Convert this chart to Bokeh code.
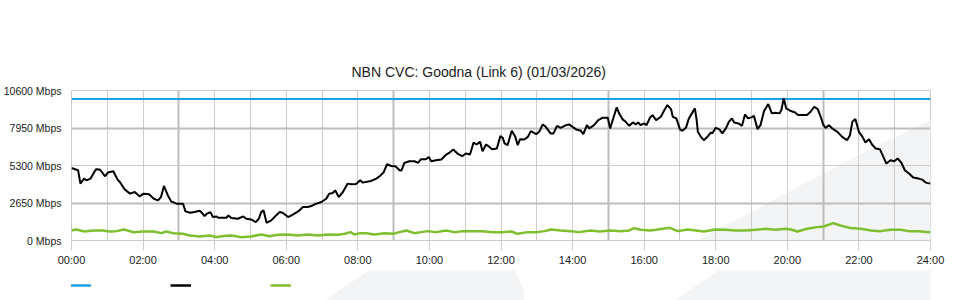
from bokeh.plotting import figure
from bokeh.layouts import column
from bokeh.models import (Range1d, FixedTicker, Legend, LegendItem, Grid,
                          PolyAnnotation)
from bokeh.embed import file_html
from bokeh.resources import INLINE

# ---------------- data ----------------
title_text = "NBN CVC: Goodna (Link 6) (01/03/2026)"
y_ticks = [0, 2650, 5300, 7950, 10600]
x_ticks = list(range(0, 25, 2))
x_tick_labels = ["%02d:00" % h for h in x_ticks]

capacity_hours = [0, 24]
capacity_mbps = [10000, 10000]

traffic_minutes = [
    0, 11, 15, 21, 25, 32, 41, 47, 50, 56, 61, 70, 77, 81, 89, 98, 106, 114, 121, 130,
    138, 145, 150, 155, 161, 167, 176, 181, 187, 191, 199, 206, 215, 219, 223, 227, 233, 237, 243, 246,
    260, 263, 268, 279, 288, 293, 301, 309, 314, 318, 322, 327, 335, 343, 349, 354, 363, 371, 380, 388,
    396, 402, 410, 419, 427, 432, 438, 442, 448, 455, 463, 469, 477, 484, 488, 502, 511, 517, 523, 529,
    536, 543, 550, 553, 558, 566, 575, 581, 586, 594, 599, 603, 611, 620, 627, 633, 640, 647, 655, 661,
    668, 674, 679, 685, 689, 695, 699, 705, 713, 719, 723, 726, 731, 738, 744, 748, 752, 759, 765, 770,
    779, 784, 790, 795, 803, 808, 814, 820, 829, 834, 840, 846, 854, 858, 864, 868, 876, 883, 890, 899,
    903, 909, 914, 918, 924, 929, 935, 941, 946, 950, 954, 960, 964, 970, 974, 980, 988, 993, 999, 1005,
    1008, 1014, 1020, 1024, 1030, 1035, 1041, 1045, 1048, 1050, 1055, 1060, 1066, 1072, 1074, 1080, 1086, 1091, 1097, 1102,
    1107, 1111, 1118, 1124, 1129, 1134, 1140, 1144, 1150, 1155, 1161, 1168, 1174, 1180, 1187, 1190, 1194, 1198, 1206, 1213,
    1218, 1225, 1233, 1239, 1245, 1251, 1256, 1260, 1264, 1270, 1275, 1284, 1292, 1300, 1305, 1309, 1314, 1320, 1326, 1331,
    1337, 1342, 1348, 1355, 1361, 1366, 1373, 1379, 1385, 1391, 1397, 1404, 1411, 1420, 1426, 1432, 1440,
]
traffic_mbps = [
    5126, 4963, 4020, 4375, 4254, 4375, 5034, 5010, 4892, 4538, 4800, 4892, 4325, 4136, 3616, 3311, 3427, 3120, 3311, 3261,
    2954, 2836, 3070, 3852, 3237, 2765, 2600, 2600, 2600, 2056, 1963, 2010, 2104, 1939, 1727, 1893, 2010, 1656, 1700, 1609,
    1609, 1772, 1585, 1538, 1700, 1538, 1489, 1297, 1538, 2010, 2127, 1255, 1418, 1772, 2010, 1963, 1656, 1822, 2056, 2363,
    2363, 2434, 2600, 2718, 2954, 3311, 3355, 3545, 3070, 3427, 4020, 3970, 4000, 4254, 4091, 4204, 4375, 4559, 4800, 5388,
    5268, 5247, 4963, 4940, 5480, 5601, 5601, 5480, 5743, 5743, 5906, 5601, 5672, 5720, 6027, 6190, 6431, 6147, 5956, 6147,
    6076, 6927, 6785, 6970, 6310, 6785, 6665, 6452, 6502, 7374, 7253, 6856, 6736, 7750, 7324, 6736, 7161, 7140, 7324, 7728,
    7515, 7679, 8203, 8033, 7565, 7565, 8104, 7962, 8154, 8203, 8033, 7849, 7750, 7515, 8154, 7919, 8154, 8508, 8671, 8671,
    7919, 8742, 9409, 8983, 8558, 8388, 8104, 8345, 8203, 8345, 8154, 8274, 8154, 8699, 8862, 8508, 8742, 9146, 9571, 9288,
    8742, 8628, 7849, 7750, 7962, 8628, 9054, 9338, 8508, 7679, 7324, 7090, 7324, 7636, 7565, 7962, 7849, 7565, 7919, 8388,
    8628, 8345, 8274, 8104, 8912, 8628, 8699, 8813, 7870, 8154, 9146, 9642, 8983, 9025, 8983, 9217, 10050, 9338, 9150, 9050,
    8862, 8862, 8862, 9096, 9452, 9288, 8742, 8203, 7962, 8154, 7919, 7679, 7324, 7090, 7445, 8388, 8579, 7679, 7324, 6927,
    7161, 6785, 6502, 6452, 5906, 5438, 5672, 5601, 5792, 5509, 4963, 4729, 4446, 4375, 4304, 4091, 4020,
]

upload_minutes = [
    0, 8, 22, 36, 53, 64, 75, 88, 103, 120, 137, 151, 159, 170, 187, 198, 215, 232, 243, 251,
    268, 285, 301, 318, 332, 346, 363, 380, 396, 413, 430, 447, 458, 468, 474, 484, 494, 508, 525, 539,
    550, 561, 575, 586, 597, 611, 628, 642, 656, 673, 689, 706, 723, 737, 748, 765, 781, 793, 804, 820,
    837, 851, 870, 885, 904, 921, 935, 943, 954, 970, 980, 991, 1003, 1016, 1033, 1047, 1060, 1080, 1097, 1113,
    1130, 1147, 1164, 1180, 1197, 1206, 1217, 1233, 1250, 1261, 1277, 1289, 1306, 1323, 1340, 1356, 1373, 1390, 1404, 1418,
    1440,
]
upload_mbps = [
    709, 780, 638, 709, 709, 638, 662, 780, 591, 638, 638, 520, 638, 520, 473, 355, 284, 355, 236, 307,
    355, 236, 284, 426, 307, 402, 426, 355, 426, 355, 426, 402, 473, 591, 426, 520, 520, 426, 520, 473,
    591, 709, 520, 591, 662, 591, 709, 591, 662, 662, 662, 591, 591, 638, 473, 591, 591, 662, 780, 709,
    662, 591, 709, 638, 709, 662, 709, 875, 756, 709, 756, 827, 898, 662, 780, 709, 638, 780, 756, 709,
    709, 756, 827, 756, 827, 780, 638, 827, 945, 993, 1229, 1064, 875, 827, 709, 662, 756, 756, 662, 662,
    591,
]

# background watermark outline (page pixels, origin top-left)
watermark_right_x = [603, 650, 700, 795, 880, 960, 960]
watermark_right_y = [300, 268, 238, 187, 143, 105, 300]
watermark_left_x = [253, 290, 333, 370, 400, 420, 440, 452, 452]
watermark_left_y = [300, 275, 250, 242, 238, 240, 262, 290, 300]

# ---------------- styling ----------------
FONT = "Liberation Sans"
W, H = 960, 300
LEG_H = 30                         # height of the legend strip below the chart
FL, FR, FT, FB = 70, 930, 90, 240  # frame edges in page pixels
GRID = "#cccccc"
GRID_DARK = "#bdbdbd"
BLUE = "#1ba1e2"
GREEN = "#7dbf2e"
WM = "#f3f4f6"

series = [
    (capacity_hours, capacity_mbps, BLUE, 2),
    ([m / 60 for m in traffic_minutes], traffic_mbps, "black", 2),
    ([m / 60 for m in upload_minutes], upload_mbps, GREEN, 2.5),
]

p = figure(width=W, height=H - LEG_H, output_backend="svg", toolbar_location=None,
           x_range=Range1d(0, 24), y_range=Range1d(0, 10600),
           min_border_left=FL, min_border_right=W - FR, min_border_top=FT,
           min_border_bottom=H - LEG_H - FB)
p.background_fill_color = "white"
p.border_fill_color = "white"
p.outline_line_color = GRID
p.outline_line_width = 1

for xs, ys in ((watermark_left_x, watermark_left_y), (watermark_right_x, watermark_right_y)):
    p.add_layout(PolyAnnotation(xs=[x - FL for x in xs], ys=[FB - y for y in ys],
                                xs_units="screen", ys_units="screen",
                                fill_color=WM, fill_alpha=1.0,
                                line_color=None, level="image"))

# title
p.title.text = title_text
p.title.align = "left"
p.title.offset = 280
p.title.text_font = FONT
p.title.text_font_size = "14px"
p.title.text_font_style = "normal"
p.title.text_color = "#222222"
p.title.standoff = 22

# grids
p.xgrid.visible = False
p.ygrid.visible = False
thin_x = [h for h in range(0, 25) if h not in (3, 9, 15, 21)]
p.add_layout(Grid(dimension=0, ticker=FixedTicker(ticks=thin_x),
                  grid_line_color=GRID, grid_line_width=1))
p.add_layout(Grid(dimension=0, ticker=FixedTicker(ticks=[3, 9, 15, 21]),
                  grid_line_color=GRID_DARK, grid_line_width=2))
p.add_layout(Grid(dimension=1, ticker=FixedTicker(ticks=[5300, 10600]),
                  grid_line_color=GRID, grid_line_width=1))
p.add_layout(Grid(dimension=1, ticker=FixedTicker(ticks=[2650, 7950]),
                  grid_line_color=GRID_DARK, grid_line_width=2))

# axes
p.yaxis.ticker = FixedTicker(ticks=y_ticks)
p.yaxis.major_label_overrides = {t: "%d Mbps" % t for t in y_ticks}
p.yaxis.axis_line_color = None
p.yaxis.major_tick_line_color = None
p.yaxis.major_tick_in = 0
p.yaxis.major_tick_out = 0
p.yaxis.minor_tick_line_color = None
p.yaxis.minor_tick_out = 0
p.yaxis.minor_tick_in = 0
p.yaxis.major_label_standoff = 10
p.yaxis.major_label_text_font = FONT
p.yaxis.major_label_text_font_size = "10.5px"
p.yaxis.major_label_text_color = "#222222"

p.xaxis.ticker = FixedTicker(ticks=x_ticks)
p.xaxis.major_label_overrides = {t: l for t, l in zip(x_ticks, x_tick_labels)}
p.xaxis.axis_line_color = GRID
p.xaxis.major_tick_line_color = GRID
p.xaxis.major_tick_in = 0
p.xaxis.major_tick_out = 10
p.xaxis.minor_tick_line_color = None
p.xaxis.minor_tick_out = 0
p.xaxis.minor_tick_in = 0
p.xaxis.major_label_standoff = 3
p.xaxis.major_label_text_font = FONT
p.xaxis.major_label_text_font_size = "11px"
p.xaxis.major_label_text_color = "#222222"

for xs, ys, color, width in series:
    p.line(xs, ys, line_color=color, line_width=width)

# ---------------- legend strip ----------------
# the strip's own ranges lie below the data, so its copies of the series stay hidden
q = figure(width=W, height=LEG_H, output_backend="svg", toolbar_location=None,
           x_range=Range1d(0, 24), y_range=Range1d(-2, -1),
           x_axis_type=None, y_axis_type=None,
           min_border_left=0, min_border_right=0, min_border_top=0, min_border_bottom=0)
q.outline_line_color = None
q.grid.visible = False
q.background_fill_color = "white"
q.border_fill_color = "white"
for xs, ys in ((watermark_left_x, watermark_left_y), (watermark_right_x, watermark_right_y)):
    q.add_layout(PolyAnnotation(xs=xs, ys=[H - y for y in ys],
                                xs_units="screen", ys_units="screen",
                                fill_color=WM, fill_alpha=1.0,
                                line_color=None, level="image"))
legend_renderers = [q.line(xs, ys, line_color=color, line_width=2.5)
                    for xs, ys, color, width in series]
# location is the legend's bottom-left corner (Bokeh adds ~71 px before the first glyph here)
legend = Legend(items=[LegendItem(label=" ", renderers=[r]) for r in legend_renderers],
                orientation="horizontal", location=(FL - 71, 5),
                margin=0, padding=0, spacing=14, glyph_width=21, glyph_height=20,
                label_width=65, label_height=20, label_standoff=0,
                border_line_color=None, background_fill_alpha=0)
q.add_layout(legend)

layout = column(p, q, spacing=0)
open("out.html", "w").write(file_html(layout, INLINE))
